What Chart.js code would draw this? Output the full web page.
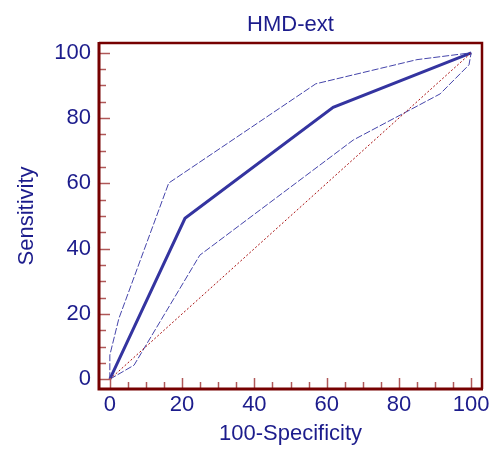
<!DOCTYPE html>
<html>
<head>
<meta charset="utf-8">
<script src="https://cdn.jsdelivr.net/npm/chart.js@4"></script>
<style>
  html, body { margin: 0; padding: 0; background: #fff; }
  #roc { display: block; }
</style>
</head>
<body>
<canvas id="roc" width="491" height="449"></canvas>
<script>
// ROC curve for HMD-ext, with its confidence band and the chance line
const rocX = [0, 20.8, 61.8, 100];
const rocY = [0, 49.3, 83.3, 100];

const upperX = [0, 0, 2.5, 16.3, 57, 85, 100];
const upperY = [0, 7.4, 18.6, 60.1, 90.5, 97.9, 100];

const lowerX = [0, 6.7, 24.9, 67.4, 91.4, 99.4, 100];
const lowerY = [0, 4.3, 38, 73.3, 87.4, 96.3, 100];

const diagX = [0, 100];
const diagY = [0, 100];

const tickVals = [0, 20, 40, 60, 80, 100];
const minorStep = 5;

const navy = '#1c1c8c';
const frame = '#760000';
const tickCol = '#b05858';

const pts = (xs, ys) => xs.map((x, i) => ({ x: x, y: ys[i] }));

// frame on top/right plus inward ticks
const frameTicks = {
  id: 'frameTicks',
  afterDatasetsDraw(chart) {
    const { ctx, chartArea: a, scales: { x, y } } = chart;
    ctx.save();
    ctx.strokeStyle = tickCol;
    ctx.lineWidth = 1.5;
    for (let v = 0; v <= 100; v += minorStep) {
      const len = v % 20 === 0 ? 11 : 7;
      const px = Math.round(x.getPixelForValue(v)) + 0.5;
      ctx.beginPath();
      ctx.moveTo(px, a.bottom);
      ctx.lineTo(px, a.bottom - len);
      ctx.stroke();
      const py = Math.round(y.getPixelForValue(v)) + 0.5;
      ctx.beginPath();
      ctx.moveTo(a.left, py);
      ctx.lineTo(a.left + len, py);
      ctx.stroke();
    }
    ctx.strokeStyle = frame;
    ctx.lineWidth = 2.5;
    ctx.beginPath();
    ctx.moveTo(a.left, a.top);
    ctx.lineTo(a.right, a.top);
    ctx.lineTo(a.right, a.bottom);
    ctx.stroke();
    ctx.lineWidth = 3;
    ctx.beginPath();
    ctx.moveTo(a.left, a.top - 1);
    ctx.lineTo(a.left, a.bottom);
    ctx.lineTo(a.right + 1, a.bottom);
    ctx.stroke();
    ctx.restore();
  }
};

const font = { family: "'Liberation Sans', Arial, sans-serif", size: 22 };

new Chart(document.getElementById('roc'), {
  type: 'line',
  data: {
    datasets: [
      {
        label: 'chance',
        data: pts(diagX, diagY),
        borderColor: '#a81010',
        borderWidth: 1,
        borderDash: [2, 2],
        pointRadius: 0
      },
      {
        label: 'upper',
        data: pts(upperX, upperY),
        borderColor: '#4444aa',
        borderWidth: 1,
        borderDash: [7, 2],
        pointRadius: 0
      },
      {
        label: 'lower',
        data: pts(lowerX, lowerY),
        borderColor: '#4444aa',
        borderWidth: 1,
        borderDash: [7, 2],
        pointRadius: 0
      },
      {
        label: 'ROC',
        data: pts(rocX, rocY),
        borderColor: '#3434a0',
        borderWidth: 3,
        pointRadius: 0
      }
    ]
  },
  options: {
    responsive: false,
    animation: false,
    layout: { padding: { left: 0, right: 9, top: 0, bottom: 0 } },
    plugins: {
      legend: { display: false },
      tooltip: { enabled: false },
      title: { display: false }
    },
    scales: {
      // top axis only carries the chart title, centred over the plot
      top: {
        type: 'linear',
        position: 'top',
        min: -3,
        max: 103,
        afterFit: s => { s.height = 43; s.paddingLeft = 0; s.paddingRight = 0; },
        grid: { display: false, drawTicks: false },
        border: { display: false },
        ticks: { display: false },
        title: {
          display: true,
          text: 'HMD-ext',
          color: navy,
          font: font,
          padding: { top: 12, bottom: 0 }
        }
      },
      x: {
        type: 'linear',
        min: -3,
        max: 103,
        afterBuildTicks: s => { s.ticks = tickVals.map(v => ({ value: v })); },
        afterFit: s => { s.height = 60; s.paddingLeft = 0; s.paddingRight = 0; },
        grid: { display: false, drawTicks: false },
        border: { display: false },
        ticks: { color: navy, font: font, padding: 3, maxRotation: 0 },
        title: {
          display: true,
          text: '100-Specificity',
          color: navy,
          font: font,
          padding: { top: 0, bottom: 2 }
        }
      },
      y: {
        type: 'linear',
        min: -3,
        max: 103,
        afterBuildTicks: s => { s.ticks = tickVals.map(v => ({ value: v })); },
        afterFit: s => { s.width = 99; s.paddingTop = 0; s.paddingBottom = 0; },
        grid: { display: false, drawTicks: false },
        border: { display: false },
        ticks: { color: navy, font: font, padding: 8 },
        title: {
          display: true,
          text: 'Sensitivity',
          color: navy,
          font: font,
          padding: { top: 14, bottom: 0 }
        }
      }
    }
  },
  plugins: [frameTicks]
});
</script>
</body>
</html>
